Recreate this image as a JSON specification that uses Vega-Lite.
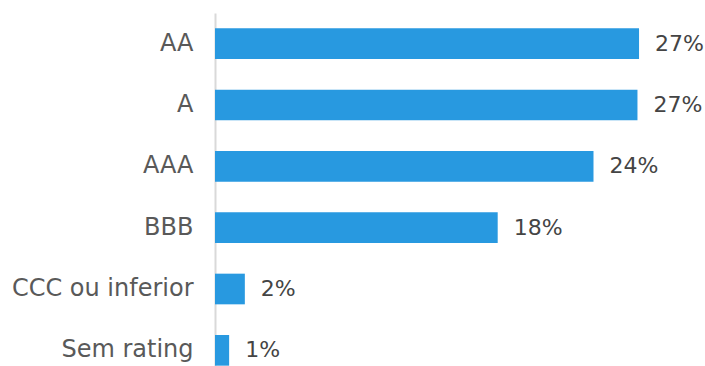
{
  "$schema": "https://vega.github.io/schema/vega-lite/v6.json",
  "autosize": "none",
  "width": 490,
  "height": 368,
  "padding": {"left": 215, "top": 13, "right": 0, "bottom": 0},
  "background": "white",
  "config": {"view": {"stroke": null}, "font": "DejaVu Sans"},
  "data": {
    "values": [
      {"rating": "AA", "share": 27.0, "label": "27%"},
      {"rating": "A", "share": 26.9, "label": "27%"},
      {"rating": "AAA", "share": 24.1, "label": "24%"},
      {"rating": "BBB", "share": 18.0, "label": "18%"},
      {"rating": "CCC ou inferior", "share": 1.9, "label": "2%"},
      {"rating": "Sem rating", "share": 0.9, "label": "1%"}
    ]
  },
  "encoding": {
    "y": {
      "field": "rating",
      "type": "nominal",
      "sort": null,
      "scale": {"paddingInner": 0.5, "paddingOuter": 0.25},
      "axis": {
        "title": null,
        "ticks": false,
        "labelPadding": 22,
        "labelFontSize": 24,
        "labelLimit": 260,
        "labelColor": "#595959",
        "labelFont": "DejaVu Sans",
        "domainColor": "#d9d9d9",
        "domainWidth": 2,
        "grid": false
      }
    },
    "x": {
      "field": "share",
      "type": "quantitative",
      "scale": {"domain": [0, 31.2], "nice": false},
      "axis": null
    }
  },
  "layer": [
    {"mark": {"type": "bar", "color": "#2899e0", "x2": 0.5}},
    {
      "mark": {"type": "text", "align": "left", "baseline": "middle", "dx": 16, "fontSize": 22, "color": "#444444", "font": "DejaVu Sans"},
      "encoding": {"text": {"field": "label"}}
    }
  ]
}
